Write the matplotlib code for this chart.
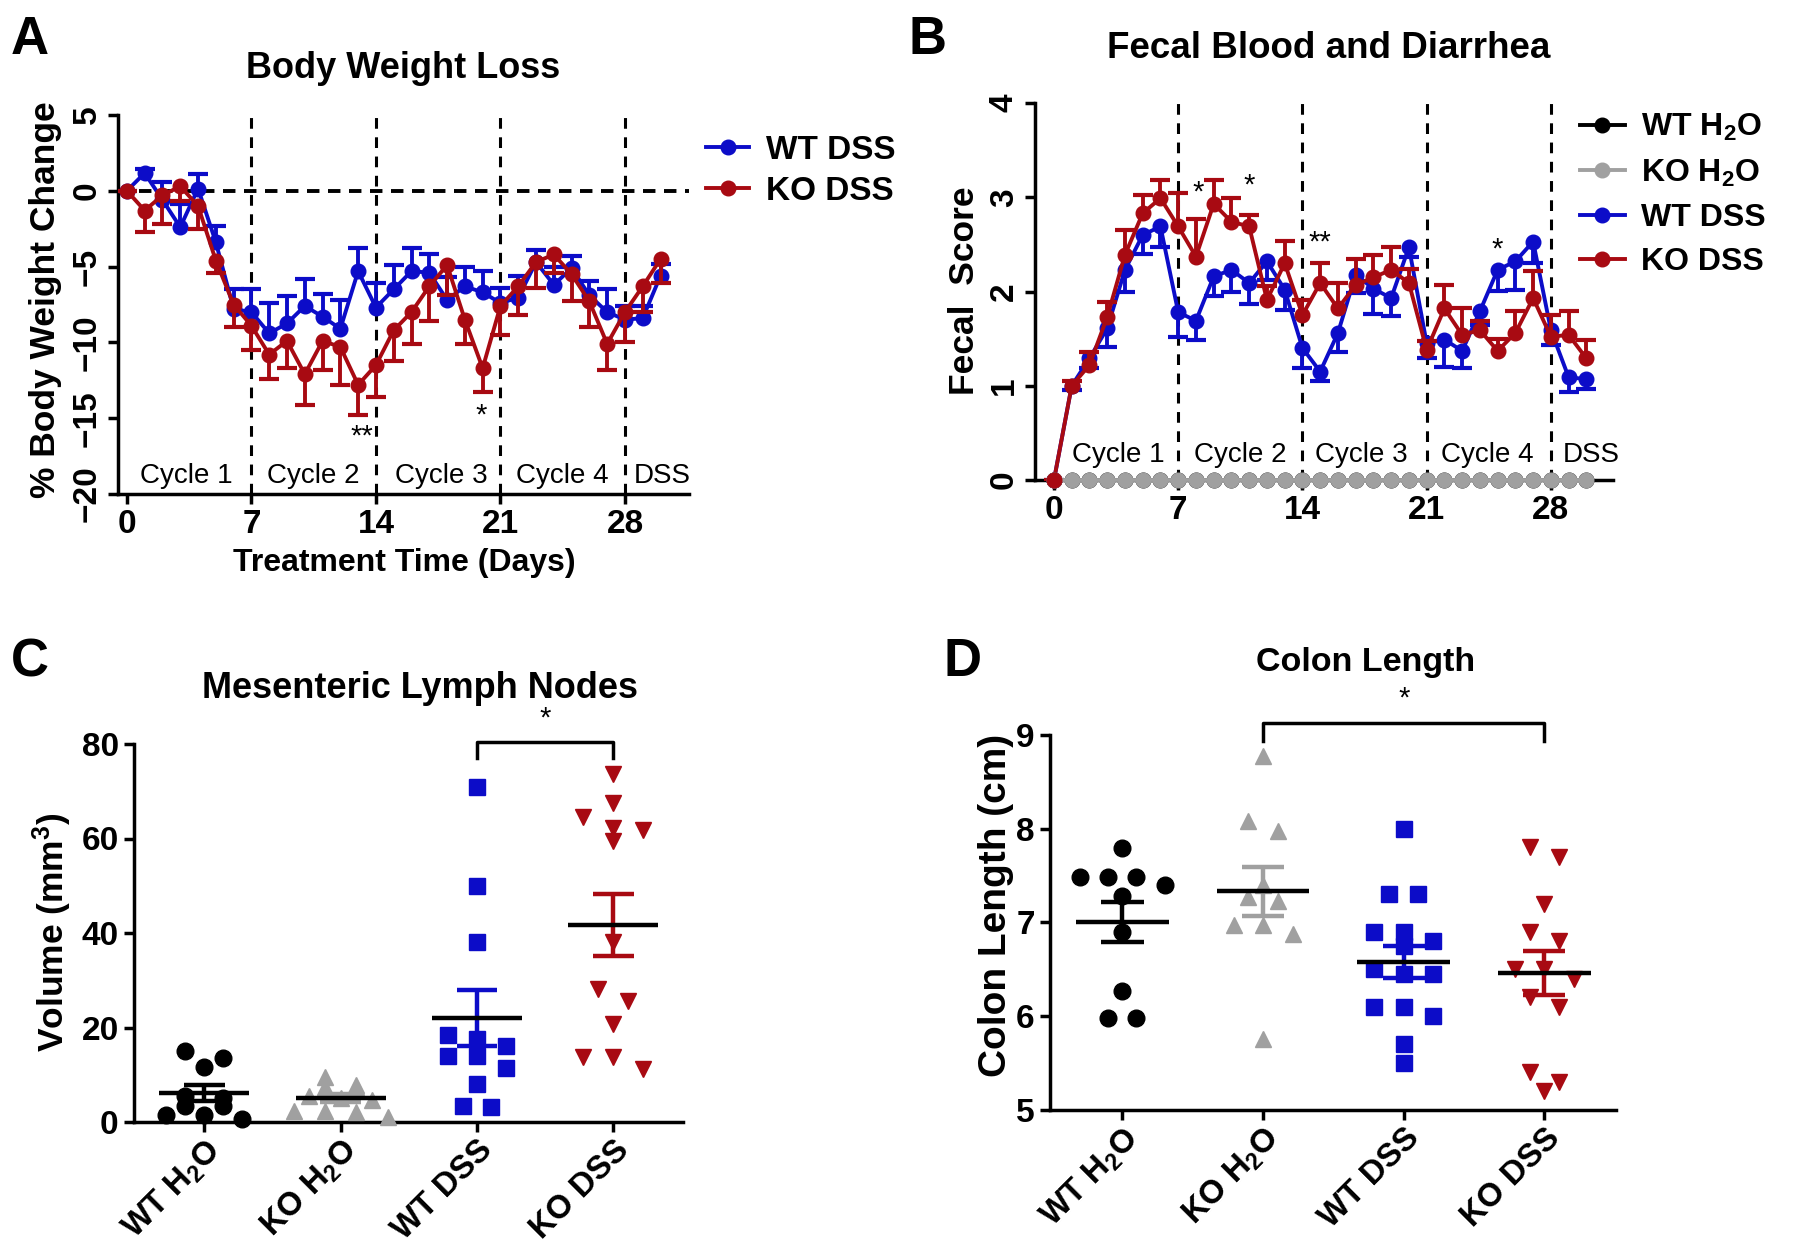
import numpy as np
import matplotlib
matplotlib.use('Agg')
import matplotlib.pyplot as plt
from matplotlib.lines import Line2D

# ---------------- data ----------------
days = [0, 1, 2, 3, 4, 5, 6, 7, 8, 9, 10, 11, 12, 13, 14, 15,
        16, 17, 18, 19, 20, 21, 22, 23, 24, 25, 26, 27, 28, 29, 30]
day_ticks = [0, 7, 14, 21, 28]
cycle_bounds = [7, 14, 21, 28]
cycle_names = ['Cycle 1', 'Cycle 2', 'Cycle 3', 'Cycle 4', 'DSS']
cycle_centers_a = [3.35, 10.45, 17.7, 24.5, 30.1]
cycle_centers_b = [3.6, 10.5, 17.3, 24.4, 30.3]

# Panel A: % body weight change (mean) and SEM
bw_wt_dss = [0, 1.17, -0.6, -2.4, 0.15, -3.4, -7.8, -8.0, -9.4, -8.75, -7.6,
             -8.3, -9.1, -5.3, -7.7, -6.5, -5.3, -5.4, -7.2, -6.3, -6.7,
             -7.4, -7.05, -4.7, -6.2, -5.1, -6.9, -8.0, -8.5, -8.4, -5.6]
bw_wt_dss_sem = [0, 0.3, 1.2, 1.5, 0.95, 1.1, 1.3, 1.5, 2.0, 1.8, 1.75,
                 1.5, 1.9, 1.5, 1.65, 1.6, 1.55, 1.2, 1.5, 1.3, 1.4,
                 1.0, 1.45, 0.8, 1.2, 0.8, 0.95, 1.5, 0.9, 0.8, 0.8]
bw_ko_dss = [0, -1.3, -0.3, 0.3, -1.0, -4.6, -7.5, -8.9, -10.8, -9.9, -12.1,
             -9.9, -10.3, -12.8, -11.5, -9.2, -8.0, -6.3, -4.9, -8.5, -11.7,
             -7.6, -6.3, -4.7, -4.2, -5.5, -7.3, -10.1, -8.0, -6.3, -4.5]
bw_ko_dss_sem = [0, 1.45, 1.9, 1.0, 1.5, 0.8, 1.5, 1.6, 1.6, 1.8, 2.0,
                 1.9, 2.5, 2.0, 2.1, 2.0, 2.1, 2.3, 2.0, 1.6, 1.6,
                 1.9, 1.9, 1.7, 1.2, 1.8, 1.7, 1.7, 2.0, 1.7, 1.6]
stars_a = [(13.2, -16.2, '**'), (19.9, -14.8, '*')]

# Panel B: fecal score
fs_wt_h2o = [0, 0, 0, 0, 0, 0, 0, 0, 0, 0, 0, 0, 0, 0, 0, 0,
             0, 0, 0, 0, 0, 0, 0, 0, 0, 0, 0, 0, 0, 0, 0]
fs_ko_h2o = [0, 0, 0, 0, 0, 0, 0, 0, 0, 0, 0, 0, 0, 0, 0, 0,
             0, 0, 0, 0, 0, 0, 0, 0, 0, 0, 0, 0, 0, 0, 0]
fs_wt_dss = [0, 1.0, 1.29, 1.61, 2.23, 2.6, 2.69, 1.78, 1.69, 2.16, 2.23,
             2.09, 2.32, 2.02, 1.40, 1.15, 1.56, 2.18, 2.03, 1.93, 2.47,
             1.45, 1.49, 1.37, 1.79, 2.23, 2.32, 2.53, 1.59, 1.09, 1.07]
fs_wt_dss_sem = [0, 0.05, 0.1, 0.2, 0.23, 0.2, 0.22, 0.26, 0.2, 0.21, 0.23,
                 0.22, 0.2, 0.22, 0.21, 0.1, 0.2, 0.2, 0.27, 0.19, 0.1,
                 0.16, 0.29, 0.18, 0.15, 0.22, 0.3, 0.23, 0.16, 0.16, 0.1]
fs_ko_dss = [0, 1.0, 1.22, 1.73, 2.39, 2.83, 2.99, 2.69, 2.37, 2.93, 2.74,
             2.69, 1.91, 2.30, 1.75, 2.09, 1.82, 2.07, 2.15, 2.23, 2.09,
             1.38, 1.82, 1.54, 1.59, 1.37, 1.56, 1.93, 1.52, 1.54, 1.29]
fs_ko_dss_sem = [0, 0.05, 0.14, 0.16, 0.26, 0.19, 0.19, 0.35, 0.4, 0.25, 0.25,
                 0.12, 0.15, 0.24, 0.16, 0.21, 0.27, 0.27, 0.24, 0.24, 0.15,
                 0.1, 0.25, 0.28, 0.1, 0.13, 0.23, 0.29, 0.23, 0.25, 0.2]
stars_b = [(8.1, 3.05, '*'), (11.0, 3.12, '*'), (15.0, 2.52, '**'), (25.0, 2.45, '*')]

# Panels C & D: groups
groups = ['WT H$_2$O', 'KO H$_2$O', 'WT DSS', 'KO DSS']
mln_wt_h2o = [15.0, 13.6, 11.7, 5.6, 5.0, 3.4, 3.4, 1.5, 1.4, 0.6]
mln_ko_h2o = [9.5, 7.9, 7.5, 7.5, 5.4, 5.0, 4.6, 2.4, 2.4, 2.2, 1.0]
mln_wt_dss = [71.0, 50.0, 38.0, 18.5, 17.6, 16.0, 14.0, 14.0, 11.5, 8.0, 3.4, 3.2]
mln_ko_dss = [73.7, 67.6, 64.5, 62.3, 61.8, 59.5, 38.0, 28.1, 25.7, 20.8, 13.8, 13.8, 11.3]
sig_c = (2, 3, 80.5, '*')

cl_wt_h2o = [7.79, 7.49, 7.49, 7.49, 7.40, 7.28, 6.90, 6.27, 5.98, 5.98]
cl_ko_h2o = [8.78, 8.08, 7.98, 7.40, 7.27, 7.23, 6.97, 6.97, 6.88, 5.76]
cl_wt_dss = [8.0, 7.3, 7.3, 6.9, 6.9, 6.8, 6.75, 6.5, 6.45, 6.45, 6.1, 6.1, 6.0, 5.7, 5.5]
cl_ko_dss = [7.8, 7.7, 7.2, 6.9, 6.8, 6.5, 6.5, 6.4, 6.2, 6.1, 5.4, 5.3, 5.2]
sig_d = (1, 3, 9.13, '*')

# ---------------- style ----------------
BLUE = '#0c0cc8'
RED = '#a80a12'
GRAY = '#a0a0a0'
BLACK = '#000000'

plt.rcParams['font.family'] = ['Liberation Sans', 'DejaVu Sans']
plt.rcParams['font.weight'] = 'bold'
plt.rcParams['mathtext.default'] = 'regular'

W, H = 1800, 1249
fig = plt.figure(figsize=(W / 100, H / 100), dpi=100)


def fx(x):
    return x / W


def fy(y):
    return 1 - y / H


def px_axes(l, t, r, b):
    return fig.add_axes([l / W, 1 - b / H, (r - l) / W, (b - t) / H])


SPW = 2.5
TICK_FS = 24
LW = 2.8
MS = 10.5


def style_axes(ax):
    for s in ['top', 'right']:
        ax.spines[s].set_visible(False)
    for s in ['left', 'bottom']:
        ax.spines[s].set_linewidth(SPW)
    ax.tick_params(direction='out', length=7, width=SPW, labelsize=TICK_FS, pad=4)


def one_sided(ax, x, y, err, up, color, zorder):
    x = np.asarray(x, float)
    y = np.asarray(y, float)
    e = np.asarray(err, float)
    end = y + e if up else y - e
    ax.vlines(x, y, end, color=color, lw=LW, zorder=zorder)
    ax.plot(x, end, ls='none', marker='_', ms=14, mew=3.0, color=color, zorder=zorder)


# ---------------- Panel A ----------------
axA = px_axes(118, 115, 689, 494)
style_axes(axA)
axA.set_xlim(-0.5, 31.6)
axA.set_ylim(-20, 5)
axA.set_xticks(day_ticks)
axA.set_yticks([5, 0, -5, -10, -15, -20])
for t in axA.get_yticklabels():
    t.set_rotation(90)
    t.set_va('center')
axA.axhline(0, color='k', lw=2.8, ls=(0, (3.2, 2.2)), zorder=1)
for b in cycle_bounds:
    axA.axvline(b, color='k', lw=2.2, ls=(0, (3.5, 2.8)), zorder=1)
for c, n in zip(cycle_centers_a, cycle_names):
    axA.text(c, -18.8, n, ha='center', va='center', fontsize=20, fontweight='normal')
one_sided(axA, days, bw_wt_dss, bw_wt_dss_sem, True, BLUE, 3)
axA.plot(days, bw_wt_dss, color=BLUE, lw=LW, marker='o', ms=MS, zorder=3)
one_sided(axA, days, bw_ko_dss, bw_ko_dss_sem, False, RED, 4)
axA.plot(days, bw_ko_dss, color=RED, lw=LW, marker='o', ms=MS, zorder=4)
for x, y, s in stars_a:
    axA.text(x, y, s, ha='center', va='center', fontsize=21, fontweight='normal')

fig.text(fx(30), fy(40), 'A', fontsize=38, ha='center', va='center')
fig.text(fx(403), fy(68), 'Body Weight Loss', fontsize=26, ha='center', va='center')
fig.text(fx(46), fy(300), '% Body Weight Change', fontsize=25.5, rotation=90,
         ha='center', va='center')
fig.text(fx(404), fy(563), 'Treatment Time (Days)', fontsize=23, ha='center', va='center')

hA = [Line2D([], [], color=BLUE, lw=LW, marker='o', ms=MS),
      Line2D([], [], color=RED, lw=LW, marker='o', ms=MS)]
fig.legend(hA, ['WT DSS', 'KO DSS'], loc='upper left', bbox_to_anchor=(fx(706), fy(135)),
           frameon=False, fontsize=24, handlelength=1.3, handletextpad=0.5,
           labelspacing=0.3, borderpad=0, borderaxespad=0)

# ---------------- Panel B ----------------
axB = px_axes(1035, 103, 1613, 480)
style_axes(axB)
axB.set_xlim(-1.07, 31.5)
axB.set_ylim(0, 4)
axB.set_xticks(day_ticks)
axB.set_yticks([0, 1, 2, 3, 4])
for t in axB.get_yticklabels():
    t.set_rotation(90)
    t.set_va('center')
for b in cycle_bounds:
    axB.axvline(b, color='k', lw=2.2, ls=(0, (3.5, 2.8)), zorder=1)
for c, n in zip(cycle_centers_b, cycle_names):
    axB.text(c, 0.27, n, ha='center', va='center', fontsize=20, fontweight='normal')
one_sided(axB, days, fs_wt_dss, fs_wt_dss_sem, False, BLUE, 3)
axB.plot(days, fs_wt_dss, color=BLUE, lw=LW, marker='o', ms=MS, zorder=3, clip_on=False)
one_sided(axB, days, fs_ko_dss, fs_ko_dss_sem, True, RED, 4)
axB.plot(days, fs_ko_dss, color=RED, lw=LW, marker='o', ms=MS, zorder=4, clip_on=False)
axB.plot(days, fs_wt_h2o, color=BLACK, lw=LW, marker='o', ms=MS, zorder=5, clip_on=False)
axB.plot(days, fs_ko_h2o, color=GRAY, lw=LW, marker='o', ms=MS, zorder=5, clip_on=False)
axB.plot(days[:1], fs_ko_dss[:1], color=RED, ls='none', marker='o', ms=MS, zorder=6, clip_on=False)
for x, y, s in stars_b:
    axB.text(x, y, s, ha='center', va='center', fontsize=21, fontweight='normal')

fig.text(fx(928), fy(40), 'B', fontsize=38, ha='center', va='center')
fig.text(fx(1329), fy(48), 'Fecal Blood and Diarrhea', fontsize=26.5, ha='center', va='center')
fig.text(fx(964), fy(291), 'Fecal  Score', fontsize=25.5, rotation=90, ha='center', va='center')

hB = [Line2D([], [], color=c, lw=LW, marker='o', ms=MS) for c in (BLACK, GRAY, BLUE, RED)]
fig.legend(hB, ['WT H$_2$O', 'KO H$_2$O', 'WT DSS', 'KO DSS'], loc='upper left',
           bbox_to_anchor=(fx(1580), fy(112)), frameon=False, fontsize=23,
           handlelength=1.4, handletextpad=0.5, labelspacing=0.45,
           borderpad=0, borderaxespad=0)


# ---------------- Panels C & D ----------------
def swarm(vals, tol, step):
    vals = np.asarray(vals, float)
    order = np.argsort(-vals, kind='stable')
    offs = np.zeros(len(vals))
    rows, row = [], []
    for idx in order:
        if row and vals[row[0]] - vals[idx] > tol:
            rows.append(row)
            row = []
        row.append(idx)
    rows.append(row)
    for r in rows:
        n = len(r)
        for k, idx in enumerate(r):
            offs[idx] = (k - (n - 1) / 2) * step
    return offs


def scatter_panel(ax, data, tols, steps, sizes):
    styles = [('o', BLACK), ('^', GRAY), ('s', BLUE), ('v', RED)]
    for i, (vals, (m, col), tol, st, ms) in enumerate(zip(data, styles, tols, steps, sizes)):
        vals = np.asarray(vals, float)
        xs = i + swarm(vals, tol, st)
        ax.plot(xs, vals, ls='none', marker=m, color=col, ms=ms, mec=col, zorder=3, clip_on=False)
        mean = vals.mean()
        sem = vals.std(ddof=1) / np.sqrt(len(vals))
        ax.vlines(i, mean - sem, mean + sem, color=col, lw=3.2, zorder=4)
        ax.hlines([mean - sem, mean + sem], i - 0.15, i + 0.15, color=col, lw=3.2, zorder=4)
        ax.hlines(mean, i - 0.33, i + 0.33, color=BLACK, lw=3.2, zorder=5)
    ax.set_xticks(range(len(groups)))
    ax.set_xticklabels(groups, rotation=45, ha='right', rotation_mode='anchor', fontsize=23.5)
    ax.tick_params(axis='x', pad=2)
    ax.set_xlim(-0.515, 3.51)


def bracket(ax, sig, drop):
    a, b, y, s = sig
    ax.plot([a, a, b, b], [y - drop, y, y, y - drop], color='k', lw=2.5, clip_on=False)
    ax.text((a + b) / 2, y + drop * 0.55, s, ha='center', va='bottom', fontsize=21,
            fontweight='normal')


axC = px_axes(134, 744, 683, 1122)
style_axes(axC)
axC.set_ylim(0, 80)
axC.set_yticks([0, 20, 40, 60, 80])
scatter_panel(axC, [mln_wt_h2o, mln_ko_h2o, mln_wt_dss, mln_ko_dss],
              [1.5, 1.6, 3.0, 3.0], [0.28, 0.23, 0.21, 0.22], [12, 12, 11, 12])
bracket(axC, sig_c, 3.5)
fig.text(fx(30), fy(662), 'C', fontsize=38, ha='center', va='center')
fig.text(fx(420), fy(689), 'Mesenteric Lymph Nodes', fontsize=26, ha='center', va='center')
fig.text(fx(52), fy(932), 'Volume (mm$^3$)', fontsize=25.5, rotation=90, ha='center', va='center')

axD = px_axes(1050, 735, 1616, 1110)
style_axes(axD)
axD.set_ylim(5, 9)
axD.set_yticks([5, 6, 7, 8, 9])
scatter_panel(axD, [cl_wt_h2o, cl_ko_h2o, cl_wt_dss, cl_ko_dss],
              [0.13, 0.13, 0.13, 0.13], [0.2, 0.21, 0.21, 0.21], [12, 12, 11, 12])
bracket(axD, sig_d, 0.19)
fig.text(fx(962), fy(662), 'D', fontsize=38, ha='center', va='center')
fig.text(fx(1366), fy(662), 'Colon Length', fontsize=24.5, ha='center', va='center')
fig.text(fx(996), fy(905), 'Colon Length (cm)', fontsize=28, rotation=90, ha='center', va='center')

fig.savefig('out.png', dpi=100)
